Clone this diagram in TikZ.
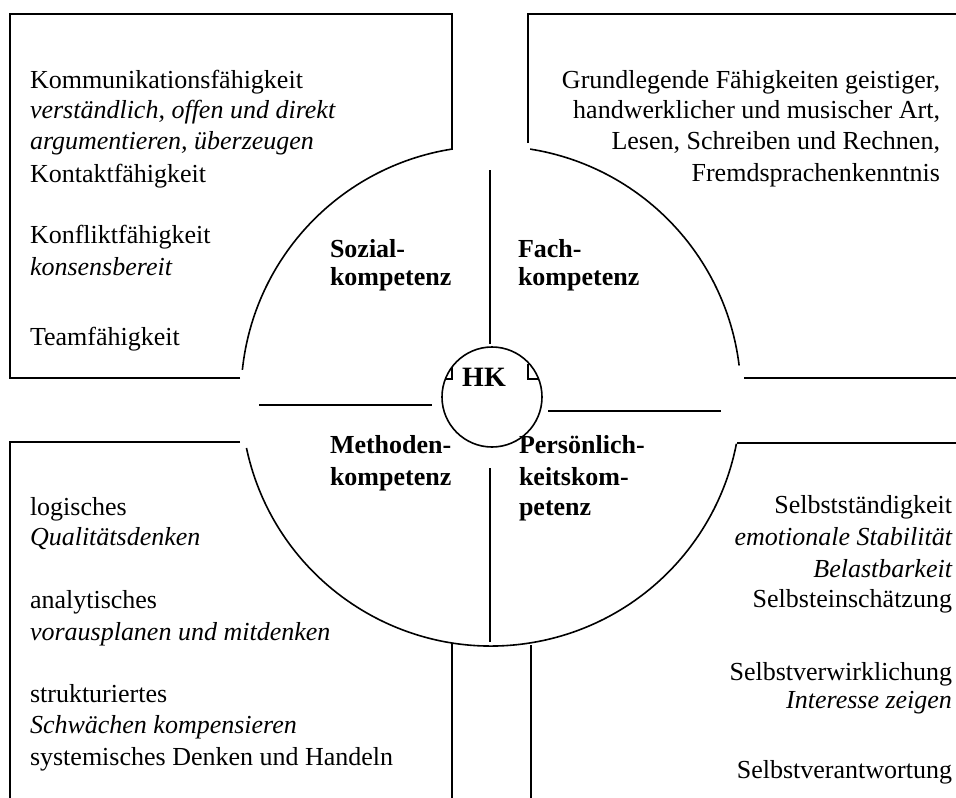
\documentclass[tikz,border=0pt]{standalone}
\usepackage{fontspec}
\setmainfont{Liberation Serif}
\begin{document}
\begin{tikzpicture}[x=1pt,y=1pt,line width=1.6pt,
  txt/.style={inner sep=0pt,outer sep=0pt,font=\fontsize{26}{31}\selectfont},
  lt/.style={txt,anchor=base west},
  rt/.style={txt,anchor=base east},
  lab/.style={txt,anchor=base west,font=\fontsize{26}{31}\selectfont\bfseries},
  ring/.style={circle,draw,inner sep=0pt,outer sep=0pt}]
\path[use as bounding box,fill=white] (0,0) rectangle (956,-798);

% centre of big circle
\coordinate (C) at (491,-396);

% top-left box
\draw (240,-378) -- (10,-378) -- (10,-14) -- (452,-14) -- (452,-150);
\draw ([shift={(99:250)}]C) arc[start angle=99,end angle=174,radius=250];
% top-right box
\draw (528,-143) -- (528,-14) -- (957,-14);
\draw (744,-378) -- (957,-378);
\draw ([shift={(81:250)}]C) arc[start angle=81,end angle=7,radius=250];
% bottom arc
\draw ([shift={(192:250)}]C) arc[start angle=192,end angle=349,radius=250];
% bottom-left box
\draw (240,-442) -- (10,-442) -- (10,-799);
\draw (452,-643) -- (452,-799);
% bottom-right box
\draw (737,-443) -- (957,-443);
\draw (531,-645) -- (531,-799);

% cross lines
\draw (490,-170) -- (490,-344);
\draw (259,-405) -- (432,-405);
\draw (548,-411) -- (721,-411);
\draw (490,-468) -- (490,-642);

% HK circle
\node[ring,minimum size=100pt] (hk) at (492,-397) {};
\node[lab,anchor=base,font=\fontsize{28}{31}\selectfont\bfseries] (hkt) at (484,-386) {HK};
\draw (452,-367) -- (452,-379) -- (445.4,-379);
\draw (528,-364) -- (528,-379) -- (538.6,-379);

% quadrant labels
\node[lab] (s1) at (330,-257) {Sozial-};
\node[lab] (s2) at (330,-285) {kompetenz};
\node[lab] (f1) at (518,-257) {Fach-};
\node[lab] (f2) at (518,-285) {kompetenz};
\node[lab] (m1) at (330,-453) {Methoden-};
\node[lab] (m2) at (330,-485) {kompetenz};
\node[lab] (p1) at (519,-453) {Persönlich-};
\node[lab] (p2) at (519,-485) {keitskom-};
\node[lab] (p3) at (519,-515) {petenz};

% top-left text
\node[lt] (tl1) at (30,-88) {Kommunikationsfähigkeit};
\node[lt] (tl2) at (30,-118) {\itshape verständlich, offen und direkt};
\node[lt] (tl3) at (30,-149) {\itshape argumentieren, überzeugen};
\node[lt] (tl4) at (30,-182) {Kontaktfähigkeit};
\node[lt] (tl5) at (30,-243) {Konfliktfähigkeit};
\node[lt] (tl6) at (30,-275) {\itshape konsensbereit};
\node[lt] (tl7) at (30,-345) {Teamfähigkeit};

% top-right text
\node[rt] (tr1) at (940,-88) {Grundlegende Fähigkeiten geistiger,};
\node[rt] (tr2) at (940,-118) {handwerklicher und musischer Art,};
\node[rt] (tr3) at (940,-149) {Lesen, Schreiben und Rechnen,};
\node[rt] (tr4) at (940,-181) {Fremdsprachenkenntnis};

% bottom-left text
\node[lt] (bl1) at (30,-515) {logisches};
\node[lt] (bl2) at (30,-545) {\itshape Qualitätsdenken};
\node[lt] (bl3) at (30,-608) {analytisches};
\node[lt] (bl4) at (30,-640) {\itshape vorausplanen und mitdenken};
\node[lt] (bl5) at (30,-702) {strukturiertes};
\node[lt] (bl6) at (30,-733) {\itshape Schwächen kompensieren};
\node[lt] (bl7) at (30,-765) {systemisches Denken und Handeln};

% bottom-right text
\node[rt] (br1) at (952,-513) {Selbstständigkeit};
\node[rt] (br2) at (952,-545) {\itshape emotionale Stabilität};
\node[rt] (br3) at (952,-577) {\itshape Belastbarkeit};
\node[rt] (br4) at (952,-607) {Selbsteinschätzung};
\node[rt] (br5) at (952,-680) {Selbstverwirklichung};
\node[rt] (br6) at (952,-708) {\itshape Interesse zeigen};
\node[rt] (br7) at (952,-778) {Selbstverantwortung};
\end{tikzpicture}
\end{document}
